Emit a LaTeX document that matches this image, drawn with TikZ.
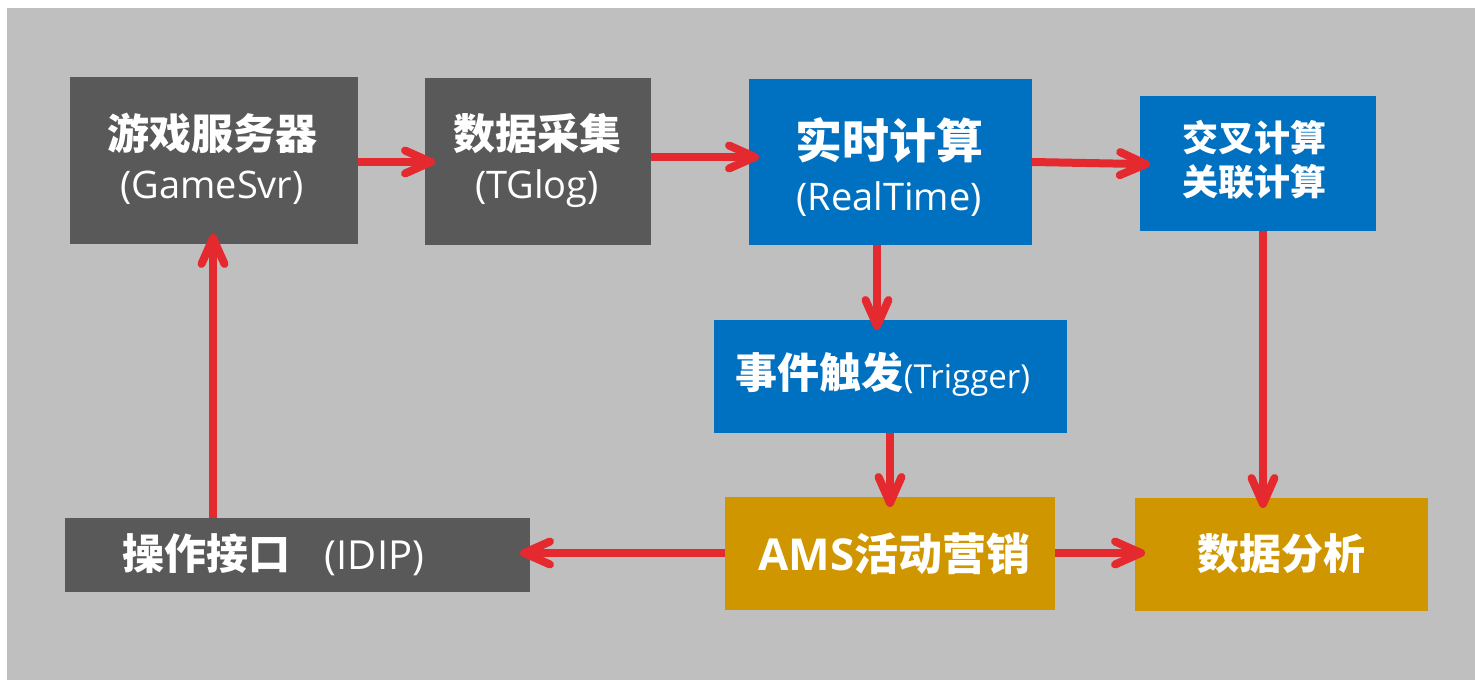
\documentclass[tikz,border=0pt]{standalone}
\usepackage{fontspec}
\setmainfont{Open Sans}
\newfontfamily\cjkfam{Noto Sans CJK SC}
\usetikzlibrary{arrows.meta}
\definecolor{bgc}{HTML}{BFBFBF}
\definecolor{dgc}{HTML}{595959}
\definecolor{blc}{HTML}{0070C0}
\definecolor{gdc}{HTML}{D09600}
\definecolor{rdc}{HTML}{E4292F}
\newcommand\zhb[1]{{\cjkfam\bfseries #1}}
\tikzset{
  box/.style args={#1x#2}{inner sep=0pt, outer sep=0pt, minimum width=#1pt, minimum height=#2pt},
  txt/.style={text=white, align=center, inner sep=0pt},
  arr/.style={draw=rdc, line width=8pt, -{Straight Barb[round,length=26pt,width=23pt]}, shorten >=-10pt},
}
\begin{document}
\begin{tikzpicture}[x=1pt,y=-1pt]
\useasboundingbox (0,0) rectangle (1475,680);
\fill[bgc] (7,8) rectangle (1475,680);
% boxes
\node[box=288x167, fill=dgc] (gs) at (214,160.5) {};
\node[box=226x167, fill=dgc] (tg) at (538,161.5) {};
\node[box=283x166, fill=blc] (rt) at (890.5,162) {};
\node[box=236x135, fill=blc] (cx) at (1258,163.5) {};
\node[box=353x113, fill=blc] (tr) at (890.5,376.5) {};
\node[box=330x113, fill=gdc] (am) at (890,553.5) {};
\node[box=293x113, fill=gdc] (da) at (1281.5,554.5) {};
\node[box=465x74, fill=dgc] (id) at (297.5,555) {};
% texts
\node[txt, font=\fontsize{42}{49}\selectfont] (gst) at (212,158.5) {\zhb{游戏服务器}\\\fontsize{38}{49}\selectfont(GameSvr)};
\node[txt, font=\fontsize{42}{49}\selectfont] (tgt) at (537,160) {\zhb{数据采集}\\\fontsize{38}{49}\selectfont(TGlog)};
\node[txt, font=\fontsize{47}{52}\selectfont] (rtt) at (889,167.5) {\zhb{实时计算}\\\fontsize{38}{52}\selectfont(RealTime)};
\node[txt, font=\fontsize{36}{44}\selectfont] (cxt) at (1254,160) {\zhb{交叉计算}\\\zhb{关联计算}};
\node[txt, font=\fontsize{42}{48}\selectfont] (trt) at (883,374) {\zhb{事件触发}\fontsize{33}{48}\selectfont(Trigger)};
\node[txt, font=\fontsize{44}{48}\selectfont] (amt) at (894.5,554) {\textbf{AMS}\zhb{活动营销}};
\node[txt, font=\fontsize{42}{48}\selectfont] (dat) at (1281,554) {\zhb{数据分析}};
\node[txt, font=\fontsize{42}{48}\selectfont] (idt) at (273.5,555) {\zhb{操作接口}\hspace{34pt}\fontsize{40}{48}\selectfont(IDIP)};
% arrows
\draw[arr] (gs.east |- 0,162) -- (tg.west |- 0,162);
\draw[arr] (tg.east |- 0,157) -- (rt.west |- 0,157);
\draw[arr] (rt.east |- 0,162) -- (cx.west |- 0,164);
\draw[arr] (rt.south -| 877,0) -- (tr.north -| 877,0);
\draw[arr] (tr.south -| 890,0) -- (am.north -| 890,0);
\draw[arr] (cx.south -| 1263,0) -- (da.north -| 1263,0);
\draw[arr] (am.west |- 0,553) -- (id.east |- 0,553);
\draw[arr] (am.east |- 0,553) -- (da.west |- 0,553);
\draw[arr] (id.north -| 213,0) -- (gs.south -| 213,0);
\end{tikzpicture}
\end{document}
